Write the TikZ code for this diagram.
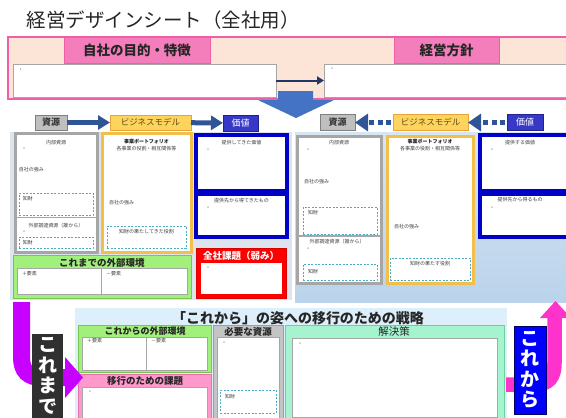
\documentclass[tikz,border=0pt]{standalone}
\usepackage{fontspec}
\setmainfont{Noto Sans CJK JP}
\usetikzlibrary{arrows.meta}
\definecolor{peach}{HTML}{FCE4D6}
\definecolor{pinkB}{HTML}{EE5FA7}
\definecolor{pinkH}{HTML}{F47EBB}
\definecolor{grayHf}{HTML}{BFBFBF}
\definecolor{grayHd}{HTML}{7F7F7F}
\definecolor{grayHt}{HTML}{3A3A3A}
\definecolor{yelHf}{HTML}{FFD45C}
\definecolor{yelHd}{HTML}{E8A33A}
\definecolor{yelHt}{HTML}{5C4A1E}
\definecolor{bluHf}{HTML}{3838C8}
\definecolor{bluHd}{HTML}{22228F}
\definecolor{arrowblue}{HTML}{2F5597}
\definecolor{navy}{HTML}{1F3864}
\definecolor{bigblue}{HTML}{4472C4}
\definecolor{leftbg}{HTML}{DCE4EE}
\definecolor{rbgtop}{HTML}{D8E5F3}
\definecolor{rbgbot}{HTML}{BAD3EB}
\definecolor{colgray}{HTML}{A6A6A6}
\definecolor{colgold}{HTML}{F2C04A}
\definecolor{colblue}{HTML}{0000C8}
\definecolor{redf}{HTML}{FF0000}
\definecolor{redd}{HTML}{D80000}
\definecolor{greenf}{HTML}{A2F07C}
\definecolor{greend}{HTML}{78C650}
\definecolor{mintf}{HTML}{A6F3CF}
\definecolor{mintd}{HTML}{6CCF9E}
\definecolor{pinkf}{HTML}{FF99CC}
\definecolor{pinkd}{HTML}{E870AE}
\definecolor{grayf}{HTML}{C4C4C4}
\definecolor{grayd}{HTML}{9E9E9E}
\definecolor{botbg}{HTML}{DDEFFB}
\definecolor{purp}{HTML}{C800FF}
\definecolor{magen}{HTML}{FF33CC}
\definecolor{cyand}{HTML}{4BACC6}
\definecolor{kbox}{HTML}{303030}
\definecolor{txtg}{HTML}{404040}
\begin{document}
\begin{tikzpicture}[x=1pt,y=-1pt,
  every node/.style={inner sep=0pt, outer sep=0pt},
  hdr/.style={draw=pinkB, fill=pinkH, line width=1pt, font=\bfseries\fontsize{13.5}{14}\selectfont, text=black!85},
  wbox/.style={draw=colgray, fill=white, line width=0.6pt},
  sm/.style={font=\fontsize{5}{6}\selectfont, text=txtg},
  smb/.style={font=\bfseries\fontsize{5}{6}\selectfont, text=black!85},
  ipbox/.style={draw=cyand, dash pattern=on 2pt off 1.5pt, line width=0.8pt},
  grayhdr/.style={draw=grayHd, fill=grayHf, line width=0.8pt, font=\bfseries\fontsize{9}{10}\selectfont, text=grayHt},
  yelhdr/.style={draw=yelHd, fill=yelHf, line width=0.8pt, font=\fontsize{8.5}{10}\selectfont, text=yelHt},
  bluhdr/.style={draw=bluHd, fill=bluHf, line width=0.8pt, font=\fontsize{9}{10}\selectfont, text=white},
  harrow/.style={draw=arrowblue, line width=5pt, -{Triangle[length=12pt,width=14pt]}},
  darrow/.style={draw=arrowblue, line width=5pt, dash pattern=on 5pt off 3.5pt, shorten <=2pt, -{Triangle[length=13pt,width=17pt]}},
  colg/.style={draw=colgray, fill=white, line width=3pt},
  coly/.style={draw=colgold, fill=white, line width=3pt},
  colb/.style={draw=colblue, fill=white, line width=3.5pt},
  secttl/.style={font=\bfseries\fontsize{9.5}{10}\selectfont, text=black!85},
  vlabel/.style={align=center, font=\bfseries\fontsize{19}{20.5}\selectfont, text=white}
]
\useasboundingbox (0,0) rectangle (566,418);
\clip (0,0) rectangle (566,418);

% title
\node[anchor=west, font=\fontsize{19.5}{20}\selectfont, text=black!85] (title) at (27,20) {経営デザインシート（全社用）};

% top band
\node[draw=pinkB, fill=peach, line width=1.5pt, minimum width=562pt, minimum height=62pt] (band) at (289,68) {};
\node[hdr, minimum width=146pt, minimum height=26pt] (h1) at (137,50) {自社の目的・特徴};
\node[hdr, minimum width=105pt, minimum height=26pt] (h2) at (446.5,50) {経営方針};
\node[wbox, minimum width=263pt, minimum height=33pt] (box1) at (144.5,80.5) {};
\node[wbox, minimum width=246pt, minimum height=33pt] (box2) at (447,80.5) {};
\node[sm] (p1) at (21,70) {・};
\node[sm] (p2) at (332,69) {・};
\draw[navy, line width=2pt, -{Triangle[length=7pt,width=8pt]}] (box1) -- (box2);

% big down arrow
\fill[bigblue] (278,91) -- (313,91) -- (313,100) -- (334,100) -- (296,118) -- (258,100) -- (278,100) -- cycle;

% middle backgrounds
\fill[leftbg] (10,132) rectangle (292,300);
\shade[top color=rbgtop, bottom color=rbgbot] (295,132) rectangle (566,302);

% left headers
\node[grayhdr, minimum width=32pt, minimum height=15pt] (gS1) at (51,122.5) {資源};
\node[yelhdr, minimum width=81pt, minimum height=15pt] (yB1) at (150.5,122.5) {ビジネスモデル};
\node[bluhdr, minimum width=35pt, minimum height=16pt] (bV1) at (240.5,123) {価値};
\draw[harrow] (gS1) -- (yB1);
\draw[harrow] (yB1) -- (bV1);

% right headers
\node[grayhdr, minimum width=35pt, minimum height=16pt] (gS2) at (337.5,122.5) {資源};
\node[yelhdr, minimum width=75pt, minimum height=16pt] (yB2) at (430.5,122.5) {ビジネスモデル};
\node[bluhdr, minimum width=36pt, minimum height=16pt] (bV2) at (525,122.5) {価値};
\draw[darrow] (yB2) -- (gS2);
\draw[darrow] (bV2) -- (yB2);

% left columns
\node[colg, minimum width=82pt, minimum height=119pt] (gC1) at (56,192.5) {};
\draw[colgray, line width=1.5pt] (15,217.5) -- (97,217.5);
\node[sm] at (56,143) {内部資源};
\node[sm] at (24,149) {・};
\node[sm, anchor=west] at (19,170) {自社の強み};
\node[ipbox, minimum width=74pt, minimum height=22pt] (dC1) at (56,204) {};
\node[sm, anchor=west] at (23,199) {知財};
\node[sm] at (56,226) {外部調達資源（誰から）};
\node[sm] at (24,232) {・};
\node[ipbox, minimum width=74pt, minimum height=11pt] (dC2) at (56,242.5) {};
\node[sm, anchor=west] at (23,242.5) {知財};

\node[coly, minimum width=89pt, minimum height=119pt] (yC1) at (146.5,192.5) {};
\node[smb] at (146.5,142) {事業ポートフォリオ};
\node[sm] at (146.5,149) {各事業の役割・相互関係等};
\node[sm, anchor=west] at (109,203) {自社の強み};
\node[ipbox, minimum width=79pt, minimum height=22pt] (dC3) at (146.5,237) {};
\node[sm] at (146.5,232) {知財の果たしてきた役割};

\node[colb, minimum width=91pt, minimum height=56pt] (bC1) at (241.5,163) {};
\node[sm] at (241.5,143) {提供してきた価値};
\node[sm] at (208,150) {・};
\node[colb, minimum width=91pt, minimum height=43pt] (bC2) at (241.5,215.5) {};
\node[sm] at (241.5,201) {提供先から得てきたもの};
\node[sm] at (208,208) {・};

\node[draw=redd, fill=redf, line width=1pt, minimum width=90pt, minimum height=50pt] (rC1) at (241,273) {};
\node[fill=white, minimum width=81pt, minimum height=31pt] (rC1in) at (241.5,278.5) {};
\node[font=\bfseries\fontsize{9.5}{10}\selectfont, text=white] at (241,255.5) {全社課題（弱み）};
\node[sm] at (208,268) {・};

\node[draw=greend, fill=greenf, line width=1pt, minimum width=178pt, minimum height=43pt] (gE1) at (102,276.5) {};
\node[secttl] at (102,262.5) {これまでの外部環境};
\node[draw=colgray, fill=white, line width=0.6pt, minimum width=170pt, minimum height=26pt] (gE1in) at (102,281) {};
\draw[colgray, line width=0.8pt] (101,268) -- (101,294);
\node[sm, anchor=west] at (22,274) {＋要素};
\node[sm, anchor=west] at (106,274) {－要素};

% right columns
\node[colg, minimum width=84pt, minimum height=147pt] (gC2) at (339,209.5) {};
\draw[colgray, line width=1.5pt] (297,236) -- (381,236);
\node[sm] at (339,143) {内部資源};
\node[sm] at (308,150) {・};
\node[sm, anchor=west] at (304,182) {自社の強み};
\node[ipbox, minimum width=74pt, minimum height=27pt] (dC4) at (340,220.5) {};
\node[sm, anchor=west] at (308,213) {知財};
\node[sm] at (337,242) {外部調達資源（誰から）};
\node[sm] at (308,249) {・};
\node[ipbox, minimum width=74pt, minimum height=16pt] (dC5) at (340,272) {};
\node[sm, anchor=west] at (308,272) {知財};

\node[coly, minimum width=86pt, minimum height=147pt] (yC2) at (430,209.5) {};
\node[smb] at (430,142) {事業ポートフォリオ};
\node[sm] at (430,149) {各事業の役割・相互関係等};
\node[sm, anchor=west] at (394,227) {自社の強み};
\node[ipbox, minimum width=80pt, minimum height=22pt] (dC6) at (430,269) {};
\node[sm] at (430,264) {知財の果たす役割};

\node[colb, minimum width=90pt, minimum height=56pt] (bC3) at (525,163) {};
\node[sm] at (520,143) {提供する価値};
\node[sm] at (492,150) {・};
\node[colb, minimum width=90pt, minimum height=43pt] (bC4) at (525,215.5) {};
\node[sm] at (520,200) {提供先から得るもの};
\node[sm] at (492,208) {・};

% bottom panel
\node[fill=botbg, minimum width=432pt, minimum height=112pt] (bp) at (291,364) {};
\node[font=\bfseries\fontsize{14}{15}\selectfont, text=black!85] at (298,318) {「これから」の姿への移行のための戦略};

\node[draw=greend, fill=greenf, line width=1pt, minimum width=133pt, minimum height=47pt] (gE2) at (144.5,348.5) {};
\node[secttl, font=\bfseries\fontsize{9}{10}\selectfont] at (145,331.5) {これからの外部環境};
\node[draw=colgray, fill=white, line width=0.6pt, minimum width=125pt, minimum height=33pt] (gE2in) at (144.5,353.5) {};
\draw[colgray, line width=0.8pt] (146,337) -- (146,370);
\node[sm, anchor=west] at (87,341) {＋要素};
\node[sm, anchor=west] at (151,341) {－要素};

\node[draw=pinkd, fill=pinkf, line width=1pt, minimum width=133pt, minimum height=48pt] (pK) at (144.5,398) {};
\node[secttl] at (145,381) {移行のための課題};
\node[draw=colgray, fill=white, line width=0.6pt, minimum width=125pt, minimum height=35pt] (pKin) at (144.5,404.5) {};
\node[sm] at (90,392) {・};

\node[draw=grayd, fill=grayf, line width=1pt, minimum width=70pt, minimum height=97pt] (gN) at (248,373.5) {};
\node[secttl] at (248,331.5) {必要な資源};
\node[draw=colgray, fill=white, line width=0.6pt, minimum width=62pt, minimum height=85pt] (gNin) at (248,379.5) {};
\node[sm] at (224,343) {・};
\node[ipbox, minimum width=56pt, minimum height=23pt] (dC7) at (248,401.5) {};
\node[sm, anchor=west] at (225,397) {知財};

\node[draw=mintd, fill=mintf, line width=1pt, minimum width=219pt, minimum height=97pt] (sK) at (394.5,373.5) {};
\node[font=\fontsize{10.5}{11}\selectfont, text=black!85] at (394,331.5) {解決策};
\node[draw=colgray, fill=white, line width=0.6pt, minimum width=205pt, minimum height=79pt] (sKin) at (394.5,377.5) {};
\node[sm] at (300,344) {・};

% purple arrow and これまで
\draw[purp, line width=17pt] (21.5,302) -- (21.5,357) .. controls (21.5,371) and (28,377.5) .. (42,377.5) -- (66,377.5);
\fill[purp] (65,357) -- (83,377.5) -- (65,398) -- cycle;
\node[fill=kbox, minimum width=31pt, minimum height=84pt, vlabel] (korema) at (47.5,376) {こ\\れ\\ま\\で};

% magenta arrow and これから
\draw[magen, line width=14.5pt] (506,384.5) -- (535,384.5) .. controls (549,384.5) and (554.5,377) .. (554.5,363) -- (554.5,317);
\fill[magen] (540,318) -- (555.5,301) -- (571,318) -- cycle;
\node[fill=blue, draw=blue!40!black, line width=0.8pt, minimum width=32pt, minimum height=88pt, vlabel] (korekara) at (530,370) {こ\\れ\\か\\ら};
\end{tikzpicture}
\end{document}
